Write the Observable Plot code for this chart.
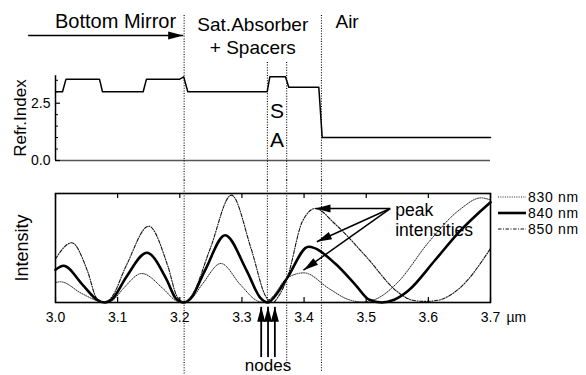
<!DOCTYPE html>
<html><head><meta charset="utf-8">
<script src="https://cdn.jsdelivr.net/npm/d3@7"></script>
<script src="https://cdn.jsdelivr.net/npm/@observablehq/plot@0.6"></script>
<style>
body{margin:0;background:#fff}
#wrap{position:relative;width:586px;height:375px;font-family:"Liberation Sans",Arial,Helvetica,sans-serif;color:#000}
.p{position:absolute;left:0}
.leg{position:absolute;left:498px;font-size:14px;line-height:16px;letter-spacing:0.7px}
.leg div{height:16px;display:flex;align-items:center;white-space:nowrap}
.leg svg{margin-right:2px}
</style>
</head><body><div id="wrap"></div>
<script>
// ---- data ----
const xTicks = [3.0, 3.1, 3.2, 3.3, 3.4, 3.5, 3.6, 3.7];
const boundaryX = [3.207, 3.341, 3.372, 3.428];   // mirror | SA left | SA right | air
// refractive-index profile
const profX = [3.000, 3.0113, 3.0169, 3.0708, 3.0756, 3.1411, 3.1464, 3.2000, 3.2063, 3.2129, 3.3407, 3.3449, 3.3701, 3.3754, 3.4237, 3.4292, 3.700];
const profN = [3.0,   3.0,    3.55,   3.55,   3.0,    3.0,    3.55,   3.55,   3.65,   3.0,    3.0,    3.65,   3.65,   3.2,    3.2,    1.0,    1.0];
// intensity curves
const x830 = [3.000, 3.008, 3.042, 3.068, 3.080, 3.092, 3.109, 3.139, 3.173, 3.193, 3.205, 3.217, 3.237, 3.266, 3.298, 3.323, 3.335, 3.347, 3.373, 3.400, 3.440, 3.470, 3.493, 3.515, 3.550, 3.600, 3.650, 3.685, 3.700];
const i830 = [0.183, 0.190, 0.083, 0.015, 0.000, 0.020, 0.128, 0.266, 0.128, 0.020, 0.000, 0.025, 0.174, 0.358, 0.160, 0.020, 0.000, 0.040, 0.226, 0.272, 0.128, 0.030, 0.005, 0.030, 0.180, 0.550, 0.850, 0.960, 0.940];
const x840 = [3.000, 3.013, 3.044, 3.067, 3.079, 3.091, 3.114, 3.147, 3.178, 3.194, 3.206, 3.218, 3.241, 3.273, 3.307, 3.330, 3.342, 3.352, 3.373, 3.407, 3.450, 3.483, 3.505, 3.525, 3.545, 3.568, 3.611, 3.650, 3.700];
const i840 = [0.300, 0.337, 0.160, 0.025, 0.000, 0.030, 0.235, 0.456, 0.220, 0.035, 0.000, 0.040, 0.300, 0.617, 0.300, 0.040, 0.000, 0.050, 0.226, 0.511, 0.358, 0.160, 0.025, 0.000, 0.025, 0.110, 0.390, 0.650, 0.920];
const x850 = [3.000, 3.026, 3.052, 3.066, 3.078, 3.090, 3.114, 3.150, 3.181, 3.196, 3.208, 3.220, 3.249, 3.283, 3.315, 3.338, 3.350, 3.358, 3.373, 3.397, 3.418, 3.450, 3.500, 3.550, 3.575, 3.595, 3.615, 3.650, 3.700];
const i850 = [0.400, 0.548, 0.280, 0.040, 0.000, 0.045, 0.340, 0.700, 0.330, 0.050, 0.000, 0.070, 0.495, 0.985, 0.490, 0.060, 0.000, 0.050, 0.226, 0.740, 0.862, 0.720, 0.420, 0.100, 0.020, 0.010, 0.020, 0.130, 0.495];
const seriesNames = ["830 nm", "840 nm", "850 nm"];
// annotations
const nodeX = [3.331, 3.342, 3.353];
const peakFromX = 3.5386, peakFromY = 0.862;
const peakTipX = [3.4184, 3.4205, 3.399];
const peakTipY = [0.862, 0.557, 0.296];
const mirrorArrowX1 = 2.956, headerArrowY = 5.45;

// ---- styles ----
const styles = {
  "830 nm": {stroke: "#222", strokeWidth: 1, strokeDasharray: "1,1.3"},
  "840 nm": {stroke: "#000", strokeWidth: 2.6, strokeDasharray: null},
  "850 nm": {stroke: "#111", strokeWidth: 1.1, strokeDasharray: "3.5,1.5,1,1.5"}
};
const font = '"Liberation Sans", Arial, Helvetica, sans-serif';
const dots = "1,1.6";

const profile = profX.map((x, i) => ({x, n: profN[i]}));
const xs = [x830, x840, x850], is = [i830, i840, i850];
const curves = seriesNames.map((name, k) => xs[k].map((x, i) => ({name, x, I: is[k][i]})));
const peakArrows = peakTipX.map((x, i) => ({x1: peakFromX, y1: peakFromY, x2: x, y2: peakTipY[i]}));

function fillMarkers(svg, len, wid) {
  svg.querySelectorAll("marker").forEach(m => {
    const c = m.getAttribute("stroke") || "black";
    m.setAttribute("viewBox", `${-len - 1} ${-wid} ${len + 2} ${2 * wid}`);
    m.setAttribute("markerWidth", len + 2);
    m.setAttribute("markerHeight", 2 * wid);
    m.setAttribute("markerUnits", "userSpaceOnUse");
    m.setAttribute("refX", 0); m.setAttribute("refY", 0);
    m.setAttribute("fill", c); m.setAttribute("stroke", "none");
    while (m.firstChild) m.removeChild(m.firstChild);
    const p = document.createElementNS("http://www.w3.org/2000/svg", "path");
    p.setAttribute("d", `M${-len},${-wid / 2}L0,0L${-len},${wid / 2}Z`);
    m.appendChild(p);
  });
}

// ---- top panel: refractive index ----
const frameWTop = 586 - 55 - 96;
const topPlot = Plot.plot({
  width: 586, height: 180,
  marginLeft: 55, marginRight: 96, marginTop: 75.2, marginBottom: 20,
  style: {fontFamily: font, fontSize: "14px", background: "transparent", overflow: "visible", color: "#000"},
  x: {domain: [xTicks[0], xTicks[xTicks.length - 1]], axis: null},
  y: {domain: [0, 3.7]},
  marks: [
    Plot.ruleY([0], {stroke: "#555", strokeWidth: 1.3}),
    Plot.ruleX(boundaryX.filter((d, i) => i === 0 || i === 3), {x: d => d, stroke: "#000", strokeWidth: 1.1, strokeDasharray: dots, insetTop: -60.2, insetBottom: -20}),
    Plot.ruleX(boundaryX.filter((d, i) => i === 1 || i === 2), {x: d => d, stroke: "#000", strokeWidth: 1.1, strokeDasharray: dots, insetTop: -13.2, insetBottom: -20}),
    Plot.ruleX([xTicks[0]], {x: d => d, stroke: "#000", strokeWidth: 1.5}),
    Plot.tickY([0.5, 1, 1.5, 2, 3, 3.5], {y: d => d, stroke: "#000", strokeWidth: 1, insetRight: frameWTop - 3}),
    Plot.tickY([0, 2.5], {y: d => d, stroke: "#000", strokeWidth: 1.2, insetRight: frameWTop - 5}),
    Plot.axisY({ticks: [0, 2.5], tickSize: 0, tickPadding: 5, tickFormat: d3.format(".1f"), label: null, fontSize: 14}),
    Plot.line(profile, {x: "x", y: "n", stroke: "#000", strokeWidth: 1.5}),
    Plot.text(["Refr.Index"], {text: d => d, frameAnchor: "left", textAnchor: "middle", rotate: -90, dx: -35, fontSize: 17}),
    Plot.text(["S\nA"], {text: d => d, x: (boundaryX[1] + boundaryX[2]) / 2, y: 1.62, lineHeight: 1.38, fontSize: 21}),
    Plot.text(["Bottom Mirror"], {text: d => d, x: boundaryX[0], frameAnchor: "top", textAnchor: "end", lineAnchor: "top", dx: -8, dy: -61.5, fontSize: 20}),
    Plot.text(["Sat.Absorber\n+ Spacers"], {text: d => d, x: (boundaryX[0] + boundaryX[3]) / 2, frameAnchor: "top", textAnchor: "middle", lineAnchor: "top", lineHeight: 1.21, dy: -61, fontSize: 19}),
    Plot.text(["Air"], {text: d => d, x: boundaryX[3], frameAnchor: "top", textAnchor: "start", lineAnchor: "top", dx: 14, dy: -61, fontSize: 19}),
    Plot.link([0], {x1: mirrorArrowX1, x2: boundaryX[0] - 0.0015, y1: headerArrowY, y2: headerArrowY, stroke: "#000", strokeWidth: 1.5, markerEnd: "arrow"})
  ]
});
fillMarkers(topPlot, 15, 8);
topPlot.classList.add("p"); topPlot.style.top = "0px";

// ---- bottom panel: intensity ----
const frameHBot = 195 - 13 - 73;
const botPlot = Plot.plot({
  width: 586, height: 195,
  marginLeft: 55, marginRight: 96, marginTop: 13, marginBottom: 73,
  style: {fontFamily: font, fontSize: "14px", background: "transparent", overflow: "visible", color: "#000"},
  x: {domain: [xTicks[0], xTicks[xTicks.length - 1]]},
  y: {domain: [0, 1], axis: null},
  marks: [
    Plot.ruleX([boundaryX[0]], {x: d => d, stroke: "#000", strokeWidth: 1.1, strokeDasharray: dots, insetTop: -13, insetBottom: -73}),
    Plot.ruleX([boundaryX[1]], {x: d => d, stroke: "#000", strokeWidth: 1.1, strokeDasharray: dots, insetTop: -13, insetBottom: 0}),
    Plot.ruleX([boundaryX[2]], {x: d => d, stroke: "#000", strokeWidth: 1.1, strokeDasharray: dots, insetTop: -13, insetBottom: -65}),
    Plot.ruleX([boundaryX[3]], {x: d => d, stroke: "#000", strokeWidth: 1.1, strokeDasharray: dots, insetTop: -13, insetBottom: -70}),
    ...curves.map(c => Plot.line(c, {x: "x", y: "I", curve: "monotone-x", ...styles[c[0].name]})),
    Plot.frame({stroke: "#000", strokeWidth: 1.6}),
    Plot.tickX(xTicks, {x: d => d, stroke: "#000", strokeWidth: 1.2, insetTop: frameHBot - 5}),
    Plot.tickX(xTicks, {x: d => d, stroke: "#000", strokeWidth: 1.2, insetBottom: frameHBot - 5}),
    Plot.axisX({ticks: xTicks, tickSize: 0, tickPadding: 10, tickFormat: d3.format(".1f"), label: null, fontSize: 14}),
    Plot.text(["µm"], {text: d => d, x: xTicks[xTicks.length - 1], frameAnchor: "bottom", textAnchor: "start", lineAnchor: "top", dx: 16, dy: 10, fontSize: 14}),
    Plot.text(["Intensity"], {text: d => d, frameAnchor: "left", textAnchor: "middle", rotate: -90, dx: -33.5, fontSize: 18}),
    Plot.link(peakArrows, {x1: "x1", y1: "y1", x2: "x2", y2: "y2", stroke: "#000", strokeWidth: 1.5, markerEnd: "arrow"}),
    Plot.text(["peak\nintensities"], {text: d => d, x: peakFromX, y: peakFromY, textAnchor: "start", lineAnchor: "top", lineHeight: 1.14, dx: 5, dy: -7, fontSize: 17.5}),
    Plot.link(nodeX, {x1: d => d, x2: d => d, y1: -0.5, y2: -0.04, stroke: "#000", strokeWidth: 1.8, markerEnd: "arrow"}),
    Plot.text(["nodes"], {text: d => d, x: nodeX[1], y: -0.58, fontSize: 17})
  ]
});
fillMarkers(botPlot, 15, 8);
botPlot.classList.add("p"); botPlot.style.top = "180px";

const wrap = document.getElementById("wrap");
wrap.appendChild(botPlot);
wrap.appendChild(topPlot);

// ---- legend ----
const leg = document.createElement("div");
leg.className = "leg";
leg.style.top = (196.7 - 8) + "px";
leg.innerHTML = seriesNames.map(n => {
  const s = styles[n];
  return `<div><svg width="28" height="16"><line x1="0" x2="28" y1="8" y2="8" stroke="${s.stroke}" stroke-width="${s.strokeWidth}" ${s.strokeDasharray ? `stroke-dasharray="${s.strokeDasharray}"` : ""}/></svg><span>${n}</span></div>`;
}).join("");
wrap.appendChild(leg);
</script>
</body></html>
